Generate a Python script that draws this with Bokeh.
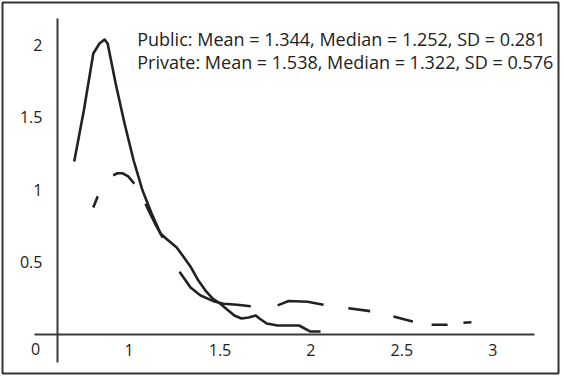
from bokeh.plotting import figure
from bokeh.models import Range1d, FixedTicker, NumeralTickFormatter
from bokeh.core.properties import value
from bokeh.embed import file_html
from bokeh.resources import INLINE

# --- data ---
public_x = [0.698, 0.751, 0.803, 0.837, 0.865, 0.882, 0.926, 0.975, 1.025, 1.074,
            1.124, 1.173, 1.203, 1.262, 1.302, 1.341, 1.381, 1.42, 1.46, 1.5,
            1.539, 1.579, 1.618, 1.658, 1.697, 1.717, 1.757, 1.816, 1.935, 1.995, 2.053]
public_y = [1.193, 1.545, 1.938, 2.007, 2.034, 2.007, 1.731, 1.455, 1.2, 0.993,
            0.834, 0.697, 0.662, 0.6, 0.531, 0.462, 0.372, 0.303, 0.248, 0.214,
            0.172, 0.131, 0.11, 0.117, 0.131, 0.11, 0.076, 0.062, 0.062, 0.021, 0.021]

private_x = [0.803, 0.827, 0.867, 0.912, 0.936, 0.965, 0.995, 1.029, 1.063, 1.107,
             1.145, 1.184, 1.228, 1.277, 1.338, 1.393, 1.464, 1.519, 1.596, 1.668,
             1.739, 1.815, 1.877, 1.981, 2.069, 2.207, 2.328, 2.454, 2.559, 2.663,
             2.751, 2.839, 2.883]
private_y = [0.876, 0.952, 1.028, 1.097, 1.112, 1.112, 1.09, 1.039, 0.979, 0.855,
             0.759, 0.669, 0.545, 0.434, 0.324, 0.269, 0.23, 0.212, 0.205, 0.195,
             0.19, 0.2, 0.231, 0.226, 0.205, 0.181, 0.161, 0.124, 0.09, 0.067,
             0.067, 0.081, 0.085]

x_ticks = [1, 1.5, 2, 2.5, 3]
y_ticks = [0.5, 1, 1.5, 2]
origin_label = "0"
stats_lines = [
    "Public: Mean = 1.344, Median = 1.252, SD = 0.281",
    "Private: Mean = 1.538, Median = 1.322, SD = 0.576",
]

FONT = "Open Sans"
INK = "#222222"
AXIS = "#3a3a3a"

p = figure(width=560, height=375, output_backend="svg", toolbar_location=None,
           x_range=Range1d(0.3036, 3.3619), y_range=Range1d(-0.2690, 2.2897),
           min_border=2, min_border_left=2, min_border_right=2,
           min_border_top=2, min_border_bottom=2)
p.outline_line_color = "#333333"
p.outline_line_width = 2
p.xgrid.visible = False
p.ygrid.visible = False
p.background_fill_color = "white"
p.border_fill_color = "white"

for ax in (p.xaxis[0], p.yaxis[0]):
    ax.major_tick_line_color = None
    ax.minor_tick_line_color = None
    ax.axis_line_color = AXIS
    ax.axis_line_width = 2
    ax.major_label_text_font = FONT
    ax.major_label_text_font_size = "16px"
    ax.major_label_text_color = INK
    ax.formatter = NumeralTickFormatter(format="0.[0]")

p.xaxis[0].fixed_location = 0
p.xaxis[0].bounds = (0.48, 3.23)
p.xaxis[0].ticker = FixedTicker(ticks=x_ticks)
p.xaxis[0].major_label_standoff = 4

p.yaxis[0].fixed_location = 0.606
p.yaxis[0].bounds = (-0.193, 2.179)
p.yaxis[0].ticker = FixedTicker(ticks=y_ticks)
p.yaxis[0].major_label_standoff = 9

p.line(public_x, public_y, line_color=INK, line_width=2.6, line_join="round")
p.line(private_x, private_y, line_color=INK, line_width=2.6, line_join="round",
       line_dash="12 26 26 23 38 38 84 27 47 25 22 24 20 19 16 16 8 60")

p.text(x=[0.485], y=[0], text=[origin_label], text_font=value(FONT),
       text_font_size="16px", text_color=INK, text_align="center",
       text_baseline="top", y_offset=9)

p.text(x=[1.0445, 1.0445], y=[2.04, 1.879], text=stats_lines,
       text_font=value(FONT), text_font_size="18px", text_color=INK,
       text_align="left", text_baseline="alphabetic")

open("out.html", "w").write(file_html(p, INLINE))
